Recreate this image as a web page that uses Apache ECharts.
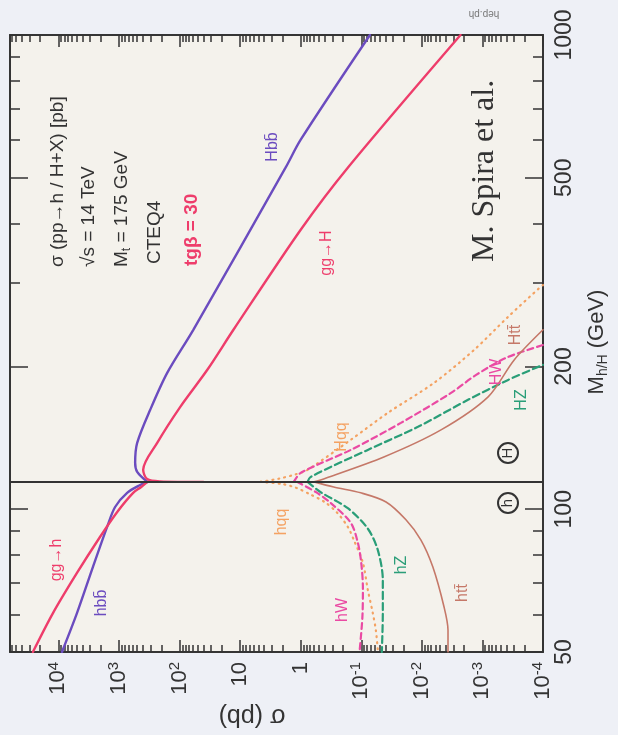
<!DOCTYPE html>
<html><head><meta charset="utf-8">
<script src="https://cdn.jsdelivr.net/npm/echarts@6/dist/echarts.min.js"></script>
<style>html,body{margin:0;padding:0;background:#eef0f6;}#c{width:618px;height:735px;}</style>
</head><body><div id="c"></div>
<script>
// ---- data: [sigma (pb), mass (GeV)] ----
const boundaryMass = 114.2;
const gg_h = [[26400,50],[12300,60.4],[4940,73.4],[2060,87.4],[1070,98.7],[584,108.3],[430,111.4],[340,114.2]];
const bb_h = [[8750,50],[4940,60.4],[2690,75.6],[1570,91.8],[1160,101.1],[734,108.3],[448,112.5],[340,114.2]];
const qq_h = [[4.6,114.2],[2.0,113],[1.2,111],[0.7,107.5],[0.4,103.5],[0.25,98.3],[0.167,91.8],[0.133,86.2],[0.094,77.1],[0.078,67.6],[0.0645,60.4],[0.0575,55.6],[0.053,50]];
const W_h  = [[1.15,114.2],[0.55,108.5],[0.32,103.1],[0.149,93.6],[0.114,85],[0.1,77],[0.094,68],[0.096,59],[0.107,50]];
const Z_h  = [[0.77,114.2],[0.47,108.7],[0.167,100.5],[0.078,91],[0.0533,82],[0.0441,70.9],[0.0441,60.4],[0.0458,50]];
const tt_h = [[0.6,114.2],[0.285,111.4],[0.102,108.3],[0.039,103.6],[0.0183,95],[0.0104,86.2],[0.0066,75.6],[0.0043,62.2],[0.0037,55.6],[0.0037,50]];
const bb_H = [[340,114.2],[501,119.9],[541,125.3],[501,138.0],[305,162.1],[160,193.9],[59.3,239],[1.78,525],[1.0,601.5],[0.072,1000]];
const gg_H = [[40.5,114.2],[209,114.5],[343,115.8],[399,121.1],[234,138],[97.3,164.4],[34.8,196.8],[12.9,239],[1.0,388.5],[0.167,525],[0.0023,1000]];
const qq_H = [[4.6,114.2],[2.3,116],[1.2,118.5],[0.77,121.1],[0.149,140.1],[0.0364,159.7],[0.0063,184.7],[0.00137,216.8],[0.000376,254.6],[0.000114,293],[0.0001,297]];
const W_H  = [[1.3,114.2],[1.0,119.3],[0.149,133.4],[0.0222,152.1],[0.0033,175.9],[0.00127,192],[0.000405,208.6],[0.0001,222]];
const Z_H  = [[0.77,114.2],[0.686,117],[0.078,133.4],[0.0116,149.2],[0.00173,170.1],[0.000376,187.4],[0.0001,201.6]];
const tt_H = [[0.6,114.2],[0.469,115.3],[0.0424,128.9],[0.00483,147],[0.000805,172.6],[0.000299,206.5],[0.0001,239]];

// ---- ticks ----
const sigmaMajor = [1e-4,1e-3,1e-2,1e-1,1,10,100,1000,10000];
const sigmaMinorMult = [2,3,4,5,6,7,8,9];
const massMajor = [50,100,200,500,1000];
const massMinor = [60,70,80,90,300,400,600,700,800,900];

const sigmaMinor = [];
sigmaMajor.forEach(d => sigmaMinorMult.forEach(m => { const v = +(d*m).toPrecision(6); if (v < 63000) sigmaMinor.push(v); }));
sigmaMinor.sort((a, b) => a - b);

const FONT = 'Liberation Sans, Arial, DejaVu Sans, sans-serif';
const INK = '#333';

function xAx(pos, ticks, len, labels) {
  return {
    type: 'log', logBase: 10, inverse: true, min: 1e-4, max: 63000, position: pos,
    axisLine: {show: true, onZero: false, lineStyle: {color: INK, width: 1.5}},
    axisTick: {show: true, inside: true, interval: 0, length: len, customValues: ticks, lineStyle: {color: INK, width: 1.5}},
    axisLabel: {show: labels, interval: 0, customValues: ticks, rotate: 90, margin: 10, color: INK, fontFamily: FONT, fontSize: 22,
      formatter: function (v) {
        const l = Math.log10(v), e = Math.round(l);
        if (Math.abs(l - e) > 1e-6) return '';
        if (e === 0) return '1';
        if (e === 1) return '10';
        return '10{sup|' + e + '}';
      },
      rich: {sup: {fontSize: 15, fontFamily: FONT, color: INK, padding: [0, 0, 10, 0]}}
    },
    splitLine: {show: false}
  };
}
function yAx(pos, ticks, len, labels) {
  return {
    type: 'log', logBase: 10, min: 50, max: 1000, position: pos,
    axisLine: {show: true, onZero: false, lineStyle: {color: INK, width: 1.5}},
    axisTick: {show: true, inside: true, interval: 0, length: len, customValues: ticks, lineStyle: {color: INK, width: 1.5}},
    axisLabel: {show: labels, interval: 0, customValues: ticks, rotate: 90, margin: 10, color: INK, fontFamily: FONT, fontSize: 23,
      formatter: v => String(Math.round(v))},
    splitLine: {show: false}
  };
}

function line(name, data, color, width, type, extra) {
  return Object.assign({
    name: name, type: 'line', data: data, xAxisIndex: 0, yAxisIndex: 0,
    showSymbol: false, symbol: 'none', smooth: 0.3,
    lineStyle: {color: color, width: width, type: type, cap: 'round'},
    silent: true, z: 3
  }, extra || {});
}

const C_GG = '#ee3d6b', C_BB = '#6b4cbf', C_QQ = '#f4a262', C_W = '#ea4aa3', C_Z = '#2a9e78', C_TT = '#c57868';

function vt(x, y, text, fill, size, align, font) {
  return {
    type: 'text', x: x, y: y, rotation: Math.PI / 2, z: 100,
    style: {text: text, fill: fill, font: font || (size + 'px ' + FONT), align: align || 'center', verticalAlign: 'middle'}
  };
}

const chart = echarts.init(document.getElementById('c'), null, {renderer: 'canvas'});
chart.setOption({
  backgroundColor: '#eef0f6',
  animation: false,
  grid: {left: 10, right: 75, top: 35, bottom: 83, show: true, backgroundColor: '#f4f2ec', borderColor: INK, borderWidth: 1.5, outerBoundsMode: 'none', containLabel: false},
  xAxis: [
    xAx('bottom', sigmaMajor, 12, true),
    xAx('bottom', sigmaMinor, 7, false),
    xAx('top', sigmaMajor, 12, false),
    xAx('top', sigmaMinor, 7, false)
  ],
  yAxis: [yAx('right', massMajor, 18, true), yAx('right', massMinor, 10, false), yAx('left', massMajor, 18, false), yAx('left', massMinor, 10, false)],
  series: [
    line('qq_h', qq_h, C_QQ, 2.2, [1, 5]),
    line('qq_H', qq_H, C_QQ, 2.2, [1, 5]),
    line('W_h', W_h, C_W, 2.2, [6, 4]),
    line('W_H', W_H, C_W, 2.2, [6, 4]),
    line('Z_h', Z_h, C_Z, 2.2, [7, 4]),
    line('Z_H', Z_H, C_Z, 2.2, [7, 4]),
    line('tt_h', tt_h, C_TT, 1.6, 'solid'),
    line('tt_H', tt_H, C_TT, 1.6, 'solid'),
    line('bb_h', bb_h, C_BB, 2.4, 'solid'),
    line('bb_H', bb_H, C_BB, 2.4, 'solid'),
    line('gg_h', gg_h, C_GG, 2.4, 'solid'),
    line('gg_H', gg_H, C_GG, 2.4, 'solid', {
      markLine: {silent: true, symbol: ['none', 'none'], label: {show: false},
        lineStyle: {color: INK, width: 2, type: 'solid'}, data: [{yAxis: boundaryMass}]}
    })
  ],
  graphic: [
    {type: 'text', x: 252, y: 716, rotation: Math.PI, z: 100,
     style: {text: 'σ (pb)', fill: INK, font: '25px ' + FONT, align: 'center', verticalAlign: 'middle'}},
    {type: 'text', x: 597, y: 342, rotation: Math.PI / 2, z: 100,
     style: {text: 'M{sub|h/H} (GeV)', fill: INK, font: '22px ' + FONT, align: 'center', verticalAlign: 'middle',
       rich: {sub: {fontSize: 14, fontFamily: FONT, fill: INK, padding: [12, 0, 0, 0]}}}},
    {type: 'text', x: 484, y: 14, rotation: Math.PI, z: 100,
     style: {text: 'hep.ph', fill: '#777', font: '10px ' + FONT, align: 'center', verticalAlign: 'middle'}},
    vt(58, 267, 'σ (pp→h / H+X) [pb]', INK, 19, 'left'),
    vt(89, 267, '√s = 14 TeV', INK, 19, 'left'),
    {type: 'text', x: 122, y: 267, rotation: Math.PI / 2, z: 100,
     style: {text: 'M{sub|t} = 175 GeV', fill: INK, font: '19px ' + FONT, align: 'left', verticalAlign: 'middle',
       rich: {sub: {fontSize: 12, fontFamily: FONT, fill: INK, padding: [10, 0, 0, 0]}}}},
    vt(155, 264, 'CTEQ4', INK, 19, 'left'),
    vt(192, 266, 'tgβ = 30', C_GG, 19, 'left', 'bold 19px ' + FONT),
    {type: 'text', x: 485, y: 262, rotation: Math.PI / 2, z: 100,
     style: {text: 'M. Spira et al.', fill: INK, font: '32px Liberation Serif, Times New Roman, serif', align: 'left', verticalAlign: 'middle'}},
    vt(57, 560, 'gg→h', C_GG, 16),
    vt(102, 603, 'hbb\u0304', C_BB, 16),
    vt(273, 147, 'Hbb\u0304', C_BB, 16),
    vt(327, 253, 'gg→H', C_GG, 16),
    vt(282, 522, 'hqq', C_QQ, 16),
    vt(342, 437, 'Hqq', C_QQ, 16),
    vt(343, 610, 'hW', C_W, 16),
    vt(402, 565, 'hZ', C_Z, 16),
    vt(463, 593, 'htt\u0304', C_TT, 16),
    vt(497, 372, 'HW', C_W, 16),
    vt(522, 400, 'HZ', C_Z, 16),
    vt(516, 335, 'Htt\u0304', C_TT, 16),
    {type: 'circle', shape: {cx: 508, cy: 503, r: 10}, style: {fill: 'none', stroke: INK, lineWidth: 2}, z: 100},
    vt(508, 503, 'h', INK, 15),
    {type: 'circle', shape: {cx: 508, cy: 453, r: 10}, style: {fill: 'none', stroke: INK, lineWidth: 2}, z: 100},
    vt(508, 453, 'H', INK, 15)
  ]
});
</script></body></html>
